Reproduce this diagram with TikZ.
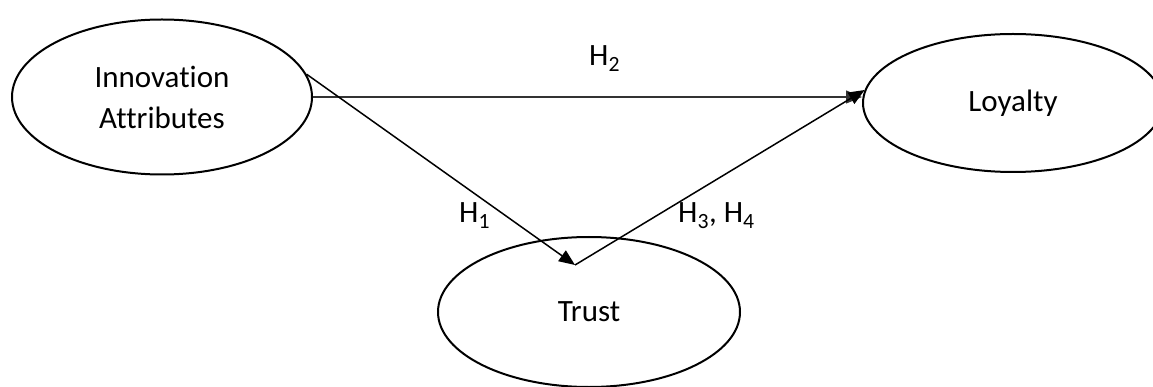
\documentclass[tikz,border=0pt]{standalone}
\usepackage{fontspec}
\setmainfont{Carlito}[Ligatures=NoCommon]
\usetikzlibrary{shapes.geometric,arrows.meta}
\begin{document}
\begin{tikzpicture}[x=1pt,y=-1pt,
  latent/.style={ellipse, draw, line width=2pt, minimum width=300pt, minimum height=155pt,
    inner sep=0pt, align=center, font=\fontsize{31}{41}\selectfont},
  pathar/.style={line width=1.5pt, -{Triangle[length=16pt,width=13pt]}},
  hlabel/.style={font=\fontsize{31}{41}\selectfont, inner sep=0pt, anchor=base west}]
\useasboundingbox (0,0) rectangle (1153,387);
\node[latent] (ia) at (162,97) {Innovation\\Attributes};
\node[latent, minimum height=138pt] (loy) at (1013,103) {Loyalty};
\node[latent, minimum width=302pt, minimum height=150pt] (tr) at (589,312) {Trust};
\coordinate (trtop) at (575,265);
\draw[pathar, line width=1.2pt, black!80] (ia.east) -- (ia.east -| loy.west);
\draw[pathar] (ia.9) -- (trtop);
\draw[pathar] (trtop) -- (loy.175);
\node[hlabel] (h2) at (589,66) {H\textsubscript{2}};
\node[hlabel] (h1) at (459,223) {H\textsubscript{1}};
\node[hlabel] (h34) at (678,223) {H\textsubscript{3}, H\textsubscript{4}};
\end{tikzpicture}
\end{document}
